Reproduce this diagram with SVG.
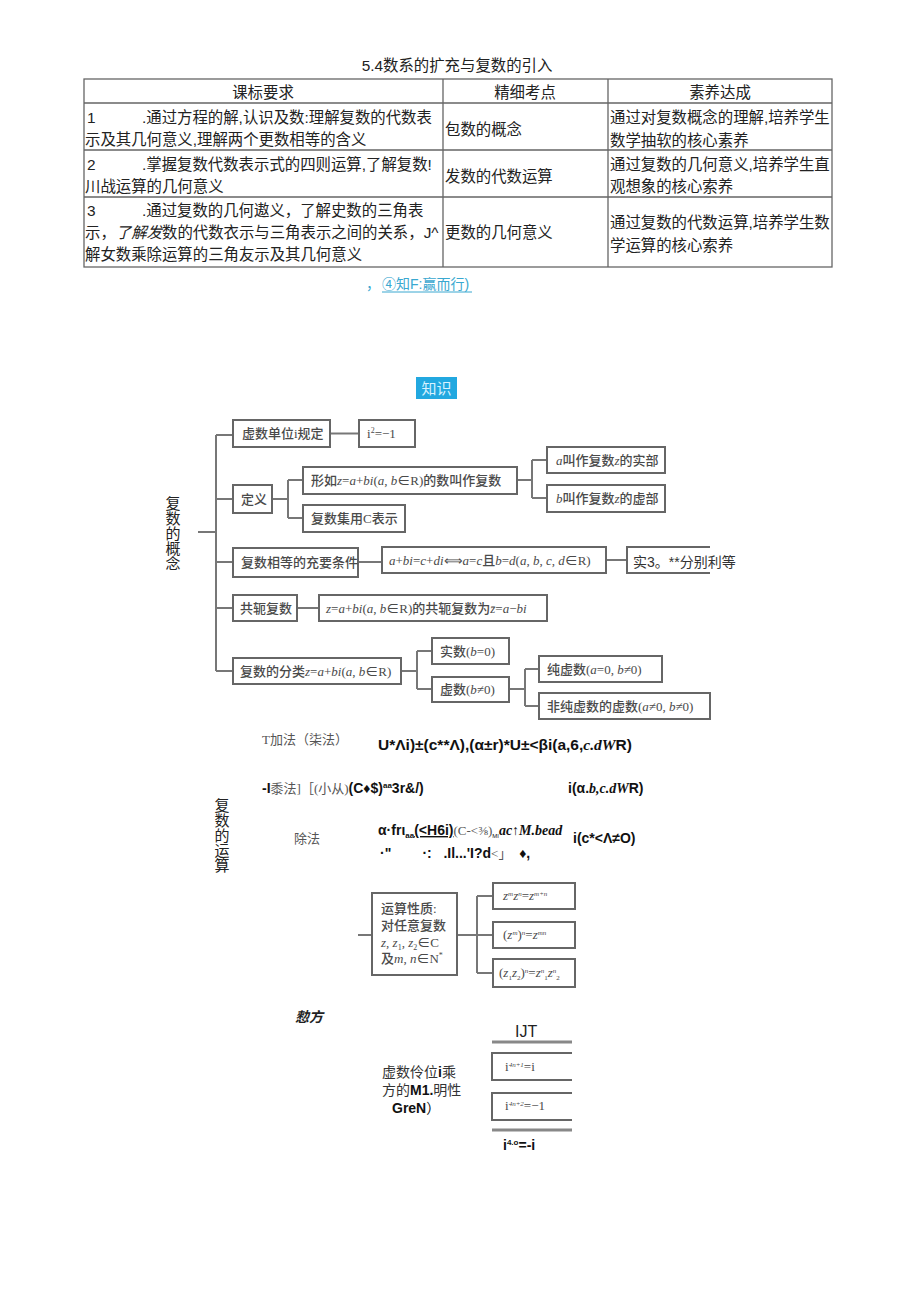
<svg xmlns="http://www.w3.org/2000/svg" width="920" height="1301" viewBox="0 0 920 1301">
<style>
.t{font-family:"Liberation Sans","Noto Sans CJK SC",sans-serif;font-size:15.4px;fill:#222}
.h{font-family:"Liberation Sans","Noto Sans CJK SC",sans-serif;font-size:15.4px;fill:#222;text-anchor:middle}
.grid{stroke:#666;stroke-width:1.3;fill:none}
.box{fill:#fff;stroke:#666;stroke-width:2}
.ln{stroke:#777;stroke-width:2;fill:none}
.m{font-family:"Liberation Serif","Noto Sans CJK SC",serif;font-size:13px;fill:#4a4a4a;font-weight:500}
.mi{font-style:italic;font-weight:normal}
.v{font-family:"Liberation Sans","Noto Sans CJK SC",sans-serif;font-size:15px;fill:#222;text-anchor:middle}
.bf{font-family:"Liberation Sans","Noto Sans CJK SC",sans-serif;font-size:14px;font-weight:bold;fill:#111}
.sf{font-family:"Liberation Serif","Noto Sans CJK SC",serif;font-size:13px;fill:#555;font-weight:normal}
.is{font-family:"Liberation Serif",serif;font-style:italic;font-weight:bold}
</style>
<rect width="920" height="1301" fill="#fff"/>

<g id="title"><text class="h" x="457" y="71">5.4数系的扩充与复数的引入</text></g>

<g id="table">
<rect class="grid" x="84" y="79" width="748" height="188"/>
<path class="grid" d="M84 103H832M84 150H832M84 197H832M443 79V267M608 79V267"/>
<text class="h" x="263" y="98">课标要求</text>
<text class="h" x="525" y="98">精细考点</text>
<text class="h" x="720" y="98">素养达成</text>
<text class="t" x="87" y="123">1</text>
<text class="t" x="142" y="123">.通过方程的解,认识及数:理解复数的代数表</text>
<text class="t" x="85" y="145">示及其几何意义,理解两个更数相等的含义</text>
<text class="t" x="87" y="170">2</text>
<text class="t" x="142" y="170">.掌握复数代数表示式的四则运算,了解复数!</text>
<text class="t" x="85" y="192">川战运算的几何意义</text>
<text class="t" x="87" y="216">3</text>
<text class="t" x="142" y="216">.通过复数的几何遨义，了解史数的三角表</text>
<text class="t" x="85" y="238">示，<tspan font-style="italic">了解发</tspan>数的代数衣示与三角表示之间的关系，J^</text>
<text class="t" x="85" y="260">解女数乘除运算的三角友示及其几何意义</text>
<text class="t" x="445" y="135">包数的概念</text>
<text class="t" x="445" y="182">发数的代数运算</text>
<text class="t" x="445" y="238">更数的几何意义</text>
<text class="t" x="610" y="123">通过对复数概念的理解,培养学生</text>
<text class="t" x="610" y="146">数学抽软的核心素养</text>
<text class="t" x="610" y="170">通过复数的几何意义,培养学生直</text>
<text class="t" x="610" y="192">观想象的核心索养</text>
<text class="t" x="610" y="228">通过复数的代数运算,培养学生数</text>
<text class="t" x="610" y="251">学运算的核心索养</text>
</g>

<g id="subtitle">
<text x="366" y="289" font-family="Liberation Sans,Noto Sans CJK SC,sans-serif" font-size="14" fill="#3aa8d0">，</text>
<text x="382" y="289" font-family="Liberation Sans,Noto Sans CJK SC,sans-serif" font-size="14" fill="#3aa8d0">④知F:赢而行)</text>
<path d="M382 292H472" stroke="#3aa8d0" stroke-width="1"/>
</g>

<g id="zhishi">
<rect x="416" y="377" width="41" height="22" fill="#22a8e0"/>
<text x="436.5" y="394" text-anchor="middle" font-family="Noto Sans CJK SC,sans-serif" font-size="15" fill="#d8f2ff">知识</text>
</g>

<g id="connectors">
<path class="ln" d="M198 532H216M216 435V671M216 435H233M216 499H233M216 562H233M216 608H233M216 671H233"/>
<path class="ln" d="M330 433.5H359"/>
<path class="ln" d="M272 499H288M288 480V518M288 480H303M288 518H303"/>
<path class="ln" d="M517 480H532M532 460V498M532 460H547M532 498H547"/>
<path class="ln" d="M358 562H382M606 560H627"/>
<path class="ln" d="M297 608H319"/>
<path class="ln" d="M401 671H417M417 651V689M417 651H432M417 689H432"/>
<path class="ln" d="M509 689H525M525 669V706M525 669H539M525 706H539"/>
<path class="ln" d="M358 935H372M457 935H477M477 896V973M477 896H493M477 935H493M477 973H493"/>
</g>

<g id="label-concept">
<text class="v" x="173" y="509">复</text>
<text class="v" x="173" y="524">数</text>
<text class="v" x="173" y="539">的</text>
<text class="v" x="173" y="554">概</text>
<text class="v" x="173" y="569">念</text>
</g>

<g id="n1"><rect class="box" x="233" y="420" width="97" height="27"/><text class="m" x="242" y="438">虚数单位i规定</text></g>
<g id="n2"><rect class="box" x="359" y="420" width="56" height="27"/><text class="m" x="367" y="438">i<tspan font-size="8" dy="-5">2</tspan><tspan dy="5">=−1</tspan></text></g>
<g id="n3"><rect class="box" x="233" y="485" width="39" height="28"/><text class="m" x="241" y="504">定义</text></g>
<g id="n4"><rect class="box" x="303" y="467" width="214" height="27"/><text class="m" x="311" y="485">形如<tspan class="mi">z</tspan>=<tspan class="mi">a</tspan>+<tspan class="mi">bi</tspan>(<tspan class="mi">a</tspan>, <tspan class="mi">b</tspan>∈R)的数叫作复数</text></g>
<g id="n5"><rect class="box" x="303" y="505" width="102" height="27"/><text class="m" x="311" y="523">复数集用C表示</text></g>
<g id="n6"><rect class="box" x="547" y="447" width="118" height="26"/><text class="m" x="556" y="465"><tspan class="mi">a</tspan>叫作复数<tspan class="mi">z</tspan>的实部</text></g>
<g id="n7"><rect class="box" x="547" y="485" width="118" height="27"/><text class="m" x="556" y="503"><tspan class="mi">b</tspan>叫作复数<tspan class="mi">z</tspan>的虚部</text></g>
<g id="n8"><rect class="box" x="233" y="548" width="125" height="29"/><text class="m" x="241" y="567">复数相等的充要条件</text></g>
<g id="n9"><rect class="box" x="382" y="547" width="224" height="26"/><text class="m" x="389" y="565"><tspan class="mi">a</tspan>+<tspan class="mi">bi</tspan>=<tspan class="mi">c</tspan>+<tspan class="mi">di</tspan>⟺<tspan class="mi">a</tspan>=<tspan class="mi">c</tspan>且<tspan class="mi">b</tspan>=<tspan class="mi">d</tspan>(<tspan class="mi">a</tspan>, <tspan class="mi">b</tspan>, <tspan class="mi">c</tspan>, <tspan class="mi">d</tspan>∈R)</text></g>
<g id="n10"><path class="box" d="M710 547H627V573H710"/><text x="633" y="567" font-family="Liberation Sans,Noto Sans CJK SC,sans-serif" font-size="14" fill="#333">实3。**分别利等</text></g>
<g id="n11"><rect class="box" x="233" y="595" width="64" height="26"/><text class="m" x="240" y="613">共轭复数</text></g>
<g id="n12"><rect class="box" x="319" y="595" width="228" height="26"/><text class="m" x="326" y="613"><tspan class="mi">z</tspan>=<tspan class="mi">a</tspan>+<tspan class="mi">bi</tspan>(<tspan class="mi">a</tspan>, <tspan class="mi">b</tspan>∈R)的共轭复数为<tspan class="mi">z̄</tspan>=<tspan class="mi">a</tspan>−<tspan class="mi">bi</tspan></text></g>
<g id="n13"><rect class="box" x="233" y="658" width="168" height="26"/><text class="m" x="240" y="676">复数的分类<tspan class="mi">z</tspan>=<tspan class="mi">a</tspan>+<tspan class="mi">bi</tspan>(<tspan class="mi">a</tspan>, <tspan class="mi">b</tspan>∈R)</text></g>
<g id="n14"><rect class="box" x="432" y="638" width="77" height="26"/><text class="m" x="440" y="656">实数(<tspan class="mi">b</tspan>=0)</text></g>
<g id="n15"><rect class="box" x="432" y="677" width="77" height="25"/><text class="m" x="440" y="694">虚数(<tspan class="mi">b</tspan>≠0)</text></g>
<g id="n16"><rect class="box" x="539" y="656" width="123" height="26"/><text class="m" x="547" y="674">纯虚数(<tspan class="mi">a</tspan>=0, <tspan class="mi">b</tspan>≠0)</text></g>
<g id="n17"><rect class="box" x="539" y="693" width="171" height="26"/><text class="m" x="547" y="711">非纯虚数的虚数(<tspan class="mi">a</tspan>≠0, <tspan class="mi">b</tspan>≠0)</text></g>

<g id="label-ops">
<text class="v" x="222" y="811">复</text>
<text class="v" x="222" y="826">数</text>
<text class="v" x="222" y="841">的</text>
<text class="v" x="222" y="856">运</text>
<text class="v" x="222" y="871">算</text>
</g>

<g id="add">
<text class="sf" x="262" y="744">T加法（柒法）</text>
<text class="bf" x="378" y="750" textLength="254" lengthAdjust="spacingAndGlyphs">U*Λi)±(c**Λ),(α±r)*U±&lt;βi(a,6,<tspan class="is">c.dW</tspan>R)</text>
</g>
<g id="mul">
<text class="bf" x="262" y="793">-I<tspan class="sf">黍法]［(小从)</tspan>(C♦$)<tspan font-size="8" dy="-5">aa</tspan><tspan dy="5">3r&amp;/)</tspan></text>
<text class="bf" x="568" y="793">i(α.<tspan class="is">b,c.dW</tspan>R)</text>
</g>
<g id="div">
<text class="sf" x="294" y="843" font-size="14">除法</text>
<text class="bf" x="378" y="835">α·frι<tspan font-size="8" dy="3">aa</tspan><tspan dy="-3" text-decoration="underline">(&lt;H6i)</tspan><tspan class="sf" font-size="10">(C-&lt;⅜)</tspan><tspan font-size="6" dy="3" font-weight="normal">MI</tspan><tspan class="is" dy="-3">ac↑M.bead</tspan></text>
<text class="bf" x="380" y="858" style="white-space:pre">·"        ·:   .Il...'I?d<tspan class="sf" font-size="11">&lt;」</tspan>  ♦,</text>
<text class="bf" x="573" y="843">i(c*&lt;Λ≠O)</text>
</g>

<g id="props"><rect class="box" x="372" y="893" width="85" height="82"/>
<text class="m" x="381" y="913" font-size="14">运算性质:</text>
<text class="m" x="381" y="930" font-size="14">对任意复数</text>
<text class="m" x="381" y="947" font-size="14"><tspan class="mi">z</tspan>, <tspan class="mi">z</tspan><tspan font-size="8" dy="3">1</tspan><tspan dy="-3">, </tspan><tspan class="mi">z</tspan><tspan font-size="8" dy="3">2</tspan><tspan dy="-3">∈C</tspan></text>
<text class="m" x="381" y="963" font-size="14">及<tspan class="mi">m</tspan>, <tspan class="mi">n</tspan>∈N<tspan font-size="8" dy="-5">*</tspan></text>
</g>
<g id="p1"><rect class="box" x="493" y="883" width="82" height="26"/><text class="m" x="503" y="900" font-size="11"><tspan class="mi">z<tspan font-size="7" dy="-4">m</tspan><tspan dy="4">z</tspan><tspan font-size="7" dy="-4">n</tspan></tspan><tspan dy="4">=</tspan><tspan class="mi">z</tspan><tspan font-size="7" dy="-4" class="mi">m+n</tspan></text></g>
<g id="p2"><rect class="box" x="493" y="922" width="82" height="26"/><text class="m" x="503" y="939" font-size="11">(<tspan class="mi">z</tspan><tspan font-size="7" dy="-4" class="mi">m</tspan><tspan dy="4">)</tspan><tspan font-size="7" dy="-4" class="mi">n</tspan><tspan dy="4">=</tspan><tspan class="mi">z</tspan><tspan font-size="7" dy="-4" class="mi">mn</tspan></text></g>
<g id="p3"><rect class="box" x="493" y="959" width="82" height="28"/><text class="m" x="499" y="977" font-size="11">(<tspan class="mi">z</tspan><tspan font-size="7" dy="3">1</tspan><tspan dy="-3" class="mi">z</tspan><tspan font-size="7" dy="3">2</tspan><tspan dy="-3">)</tspan><tspan font-size="7" dy="-4" class="mi">n</tspan><tspan dy="4">=</tspan><tspan class="mi">z</tspan><tspan font-size="7" dy="-4" class="mi">n</tspan><tspan font-size="7" dy="7">1</tspan><tspan dy="-3" class="mi">z</tspan><tspan font-size="7" dy="-4" class="mi">n</tspan><tspan font-size="7" dy="7">2</tspan></text></g>

<g id="power">
<text x="295" y="1022" font-family="Noto Sans CJK SC,sans-serif" font-size="14" font-style="italic" font-weight="bold" fill="#222">愸方</text>
<text x="515" y="1037" font-family="Liberation Sans,sans-serif" font-size="16" fill="#222">IJT</text>
<path d="M492 1042H572M492 1130H572" stroke="#888" stroke-width="3"/>
<path class="box" d="M572 1053H492V1080H572"/>
<text class="m" x="505" y="1071" font-size="11">i<tspan font-size="7" dy="-4" class="mi">4n+1</tspan><tspan dy="4">=i</tspan></text>
<path class="box" d="M572 1093H492V1120H572"/>
<text class="m" x="505" y="1110" font-size="11">i<tspan font-size="7" dy="-4" class="mi">4n+2</tspan><tspan dy="4">=−1</tspan></text>
<text class="bf" x="503" y="1150">i<tspan font-size="8" dy="-5">4.o</tspan><tspan dy="5">=-i</tspan></text>
<text x="382" y="1077" font-family="Liberation Sans,Noto Sans CJK SC,sans-serif" font-size="14" fill="#333">虚数伶位<tspan font-weight="bold" fill="#111">i</tspan>乘</text>
<text x="382" y="1095" font-family="Liberation Sans,Noto Sans CJK SC,sans-serif" font-size="14" fill="#333">方的<tspan font-weight="bold" fill="#111">M1.</tspan>明性</text>
<text x="392" y="1113" font-family="Liberation Sans,Noto Sans CJK SC,sans-serif" font-size="14" fill="#111" font-weight="bold">GreN<tspan font-weight="normal">）</tspan></text>
</g>
</svg>
